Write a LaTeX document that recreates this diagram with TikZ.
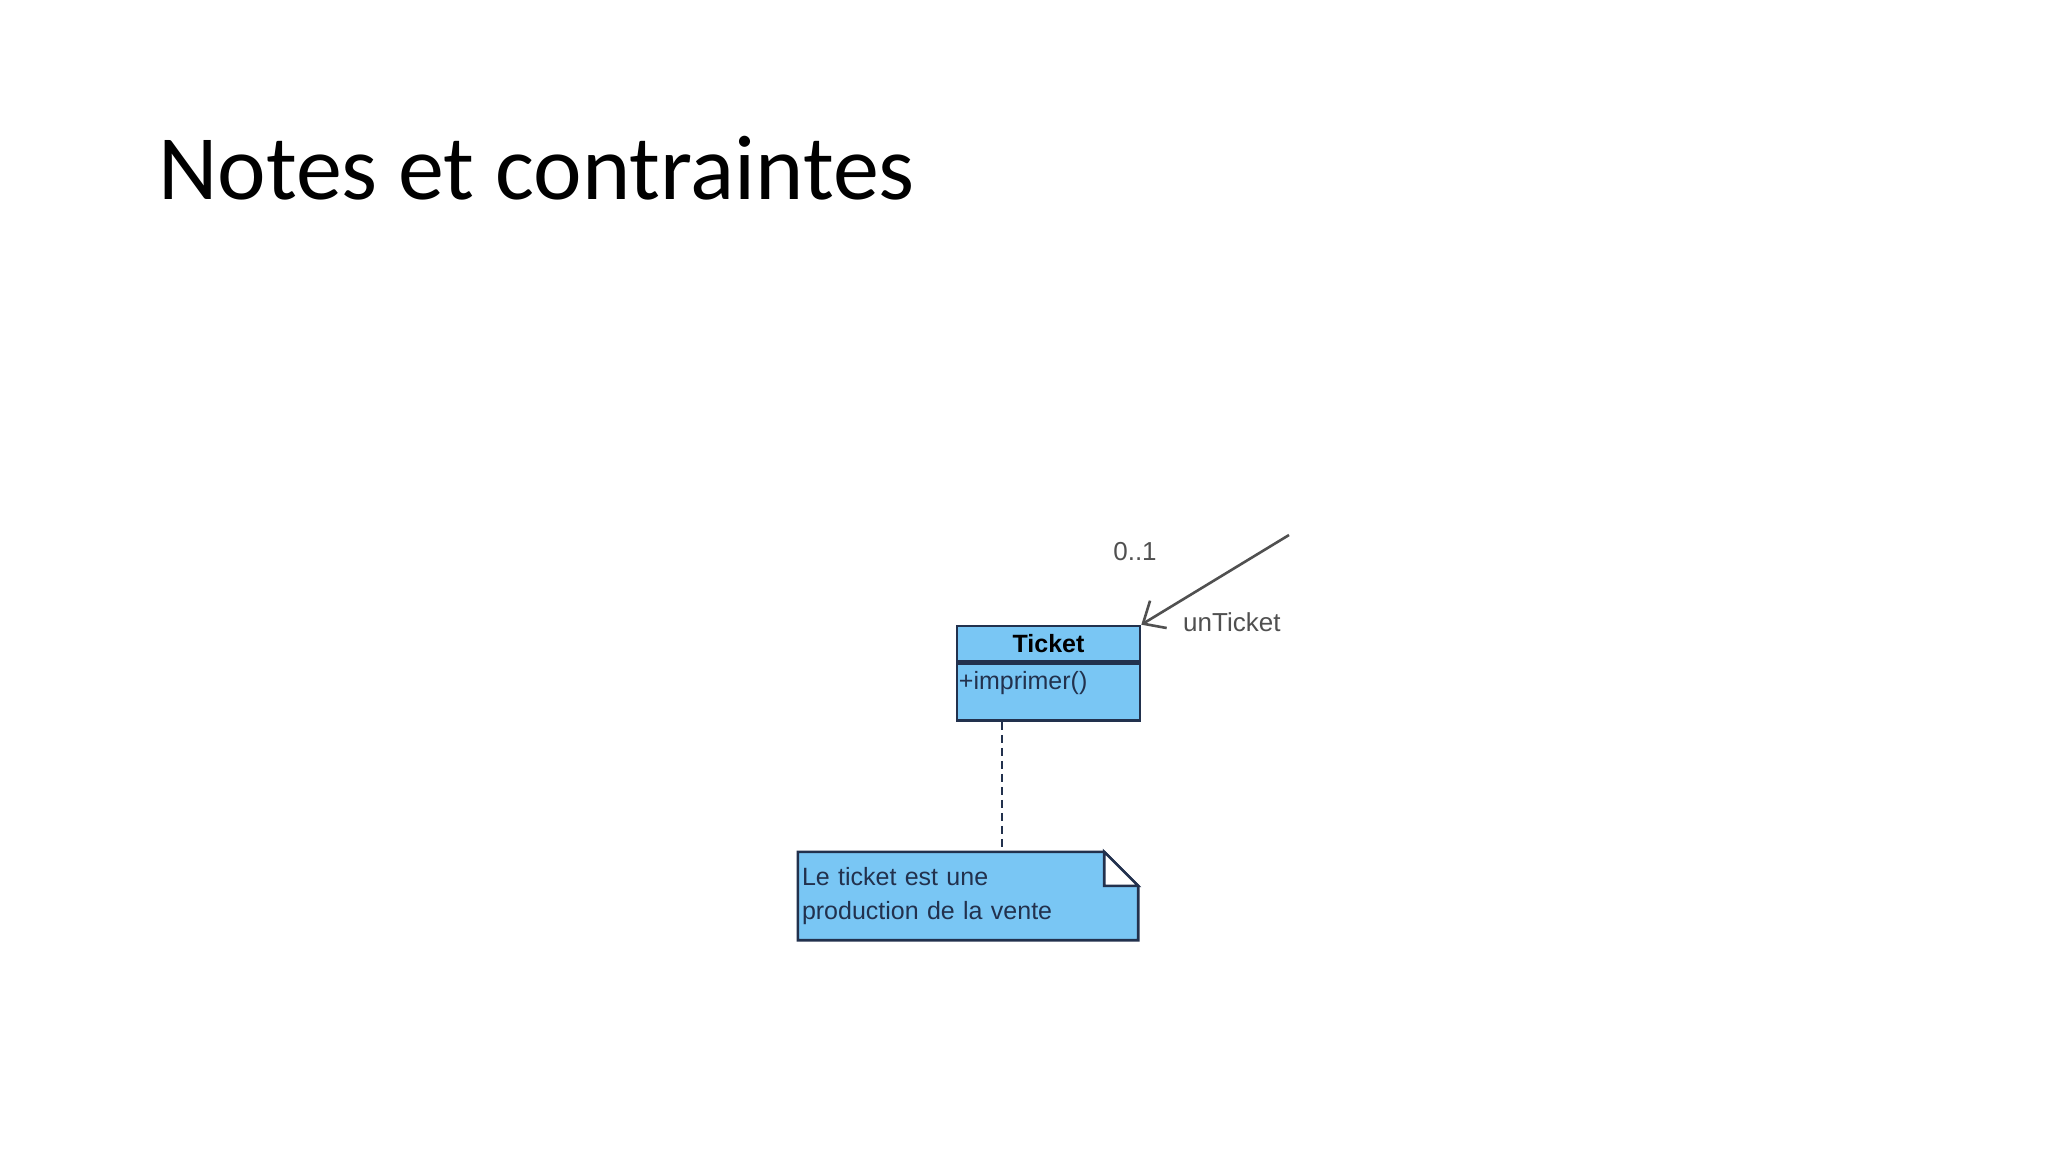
\documentclass[tikz,border=0pt]{standalone}
\usepackage{fontspec}
\setmainfont{Liberation Sans}
\newfontfamily\titlefont{Carlito}
\usetikzlibrary{positioning,arrows.meta}
\definecolor{umlfill}{HTML}{79C6F4}
\definecolor{umlline}{HTML}{22314D}
\definecolor{labelgray}{HTML}{505050}
\begin{document}
\begin{tikzpicture}[x=1pt,y=-1pt,
  classhead/.style={draw=umlline,line width=2.6pt,fill=umlfill,minimum width=183pt,minimum height=35pt,inner sep=0pt,font=\fontsize{25}{30}\selectfont\bfseries},
  classbody/.style={draw=umlline,line width=2.6pt,fill=umlfill,minimum width=183pt,minimum height=57pt,inner sep=0pt},
  opname/.style={anchor=north west,inner sep=3pt,yshift=-6pt,font=\fontsize{25}{30}\selectfont,text=umlline},
  notebox/.style={minimum width=340pt,minimum height=88pt,text width=332pt,align=left,inner sep=4pt,font=\fontsize{25}{34}\selectfont,text=umlline},
  noteline/.style={draw=umlline,line width=2.6pt,line join=miter},
  assoc/.style={draw=labelgray,line width=2.6pt,-{Straight Barb[length=18pt,width=32pt,line width=2.6pt]}},
  assoclabel/.style={font=\fontsize{26}{30}\selectfont,text=labelgray,inner sep=0pt},
  notelink/.style={draw=umlline,line width=2.4pt,dash pattern=on 8pt off 5pt}]
\useasboundingbox[fill=white] (0,0) rectangle (2048,1152);
\node[anchor=base west,inner sep=0pt,font=\titlefont\fontsize{92}{110}\selectfont] (title) at (158,199) {Notes et contraintes};
% class Ticket
\node[classhead] (ticket) at (1048.5,643.5) {Ticket};
\node[classbody,below=0pt of ticket,label={[opname]north west:+imprimer()}] (ticketops) {};
% association end
\coordinate (assocend) at (1289,535);
\draw[assoc] (assocend) -- (ticket.north east);
\node[assoclabel] (mult) at (1135,552) {0..1};
\node[assoclabel,anchor=west] (role) at (1183,622) {unTicket};
% note
\node[notebox] (note) at (968,896) {Le ticket est une\\production de la vente};
\filldraw[noteline,fill=umlfill] (note.north west) -- ([xshift=-34pt]note.north east) -- ([yshift=-34pt]note.north east) -- (note.south east) -- (note.south west) -- cycle;
\filldraw[noteline,fill=white] ([xshift=-34pt]note.north east) -- ([yshift=-34pt]note.north east) -| cycle;
\node[notebox] at (note) {Le ticket est une\\production de la vente};
\draw[notelink] ([xshift=46pt]ticketops.south west) -- ([xshift=46pt]ticketops.south west |- note.north);
\end{tikzpicture}
\end{document}
